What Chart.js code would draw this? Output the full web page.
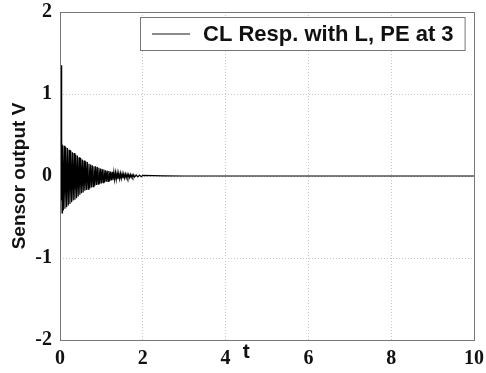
<!DOCTYPE html>
<html>
<head>
<meta charset="utf-8">
<script src="https://cdn.jsdelivr.net/npm/chart.js@4/dist/chart.umd.min.js"></script>
<style>
  html, body { margin: 0; padding: 0; background: #fff; }
  #wrap { width: 486px; height: 373px; }
</style>
</head>
<body>
<div id="wrap"><canvas id="respChart"></canvas></div>
<script>
// Closed-loop response (t in s, sensor output V)
const seriesLabel = "CL Resp. with L, PE at 3";
const timeValues = [
  0, 0.01, 0.025, 0.035, 0.045,
  0.05, 0.06, 0.08, 0.10, 0.12, 0.14, 0.16, 0.18, 0.20, 0.22,
  0.24, 0.26, 0.28, 0.30, 0.32, 0.34, 0.36, 0.38, 0.40, 0.42,
  0.44, 0.46, 0.48, 0.50, 0.52, 0.54, 0.56, 0.58, 0.60, 0.62,
  0.64, 0.66, 0.68, 0.70, 0.72, 0.74, 0.76, 0.78, 0.80, 0.82,
  0.84, 0.86, 0.88, 0.90, 0.92, 0.94, 0.96, 0.98, 1.00, 1.02,
  1.04, 1.06, 1.08, 1.10, 1.12, 1.14, 1.16, 1.18, 1.20, 1.22,
  1.24, 1.26, 1.28, 1.30, 1.32, 1.34, 1.36, 1.38, 1.40, 1.42,
  1.44, 1.46, 1.48, 1.50, 1.52, 1.54, 1.56, 1.58, 1.60, 1.62,
  1.64, 1.66, 1.68, 1.70, 1.72, 1.74, 1.76, 1.78, 1.80, 1.84,
  1.88, 1.92, 1.96, 2.00, 2.5, 3, 4, 5, 6, 7, 8, 9, 10
];
const sensorValues = [
  0, 0.2, 1.35, -0.30, 0.50,
  -0.45, 0.38, -0.42, 0.37, -0.40, 0.35, -0.38, 0.34, -0.36, 0.32,
  -0.34, 0.31, -0.32, 0.29, -0.30, 0.28, -0.29, 0.26, -0.27, 0.25,
  -0.25, 0.23, -0.23, 0.22, -0.21, 0.20, -0.20, 0.19, -0.18, 0.18,
  -0.17, 0.17, -0.16, 0.15, -0.15, 0.14, -0.14, 0.13, -0.13, 0.12,
  -0.12, 0.12, -0.11, 0.11, -0.10, 0.10, -0.095, 0.09, -0.09, 0.085,
  -0.08, 0.08, -0.075, 0.07, -0.07, 0.065, -0.065, 0.06, -0.06, 0.055,
  -0.055, 0.05, -0.05, 0.048, -0.045, 0.044, -0.042, 0.04, -0.038, 0.036,
  -0.035, 0.033, -0.032, 0.03, -0.029, 0.027, -0.026, 0.025, -0.024, 0.022,
  -0.021, 0.02, -0.019, 0.018, -0.017, 0.016, -0.015, 0.014, -0.013, 0.012,
  -0.011, 0.01, -0.009, 0.008, 0.002, 0, 0, 0, 0, 0, 0, 0, 0
];
const xTicks = [0, 2, 4, 6, 8, 10];
const yTicks = [-2, -1, 0, 1, 2];

const tickFont = { family: "'Liberation Serif', 'Times New Roman', serif", size: 20, weight: "bold" };
const legendFont = "bold 22px 'Liberation Sans', Arial, sans-serif";

// legend box drawn inside the plot area, top right
const boxLegend = {
  id: "boxLegend",
  afterDatasetsDraw(chart) {
    const { ctx, chartArea } = chart;
    ctx.save();
    ctx.font = legendFont;
    const text = chart.data.datasets[0].label;
    const tw = ctx.measureText(text).width;
    const w = tw + 74, h = 33;
    const x = Math.round(chartArea.right - w - 9), y = Math.round(chartArea.top + 5);
    ctx.fillStyle = "#fff";
    ctx.fillRect(x, y, w, h);
    ctx.strokeStyle = "#777";
    ctx.lineWidth = 1;
    ctx.strokeRect(x + 0.5, y + 0.5, w, h);
    ctx.strokeStyle = "#666";
    ctx.lineWidth = 1.5;
    ctx.beginPath();
    ctx.moveTo(x + 12, y + h / 2 + 0.5);
    ctx.lineTo(x + 50, y + h / 2 + 0.5);
    ctx.stroke();
    ctx.fillStyle = "#111";
    ctx.textBaseline = "middle";
    ctx.fillText(text, x + 63, y + h / 2 + 1);
    ctx.restore();
  }
};

// frame around plot + x label "t" next to the 4 tick
const frameAndLabel = {
  id: "frameAndLabel",
  afterDraw(chart) {
    const { ctx, chartArea, scales } = chart;
    ctx.save();
    ctx.strokeStyle = "#777";
    ctx.lineWidth = 1;
    ctx.strokeRect(chartArea.left + 0.5, chartArea.top + 0.5,
      chartArea.right - chartArea.left, chartArea.bottom - chartArea.top);
    ctx.font = "bold 21px 'Liberation Sans', Arial, sans-serif";
    ctx.fillStyle = "#111";
    ctx.textAlign = "center";
    ctx.textBaseline = "middle";
    ctx.fillText("t", scales.x.getPixelForValue(4.5), chartArea.bottom + 12);
    ctx.restore();
  }
};

new Chart(document.getElementById("respChart").getContext("2d"), {
  type: "line",
  data: {
    datasets: [
      {
        label: seriesLabel,
        data: timeValues.map((t, i) => ({ x: t, y: sensorValues[i] })),
        borderColor: "#000",
        borderWidth: 1.2,
        pointRadius: 0,
        tension: 0,
      },
    ],
  },
  options: {
    responsive: true,
    maintainAspectRatio: false,
    animation: false,
    layout: { padding: { top: 12, right: 12, left: 0, bottom: 0 } },
    plugins: {
      legend: { display: false },
      tooltip: { enabled: false },
    },
    scales: {
      x: {
        type: "linear",
        min: 0,
        max: 10,
        afterBuildTicks: (scale) => { scale.ticks = xTicks.map((v) => ({ value: v })); },
        afterFit: (scale) => {
          scale.height = 33;
          scale.paddingLeft = 0;
          scale.paddingRight = 0;
        },
        border: { display: false, dash: [1, 2] },
        grid: { color: "#c8c8c8", drawTicks: false },
        ticks: { font: tickFont, color: "#111", padding: 7, maxRotation: 0 },
      },
      y: {
        min: -2,
        max: 2,
        afterBuildTicks: (scale) => { scale.ticks = yTicks.map((v) => ({ value: v })); },
        afterFit: (scale) => {
          scale.width = 60;
          scale.paddingTop = 0;
          scale.paddingBottom = 0;
        },
        border: { display: false, dash: [1, 2] },
        grid: { color: "#c8c8c8", drawTicks: false },
        ticks: { font: tickFont, color: "#111", padding: 8 },
        title: {
          display: true,
          text: "Sensor output V",
          font: { family: "'Liberation Sans', Arial, sans-serif", size: 19, weight: "bold" },
          color: "#111",
          padding: { top: 8, bottom: 0 },
        },
      },
    },
  },
  plugins: [boxLegend, frameAndLabel],
});
</script>
</body>
</html>
